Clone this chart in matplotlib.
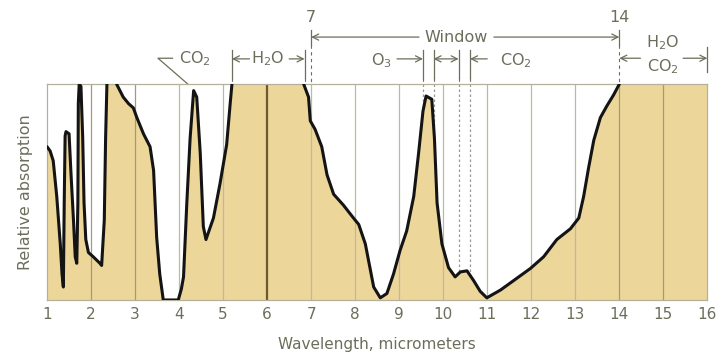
import matplotlib.pyplot as plt
import numpy as np

# Atmospheric absorption spectrum, 1-16 micrometers
wavelength = [
    1.00, 1.07, 1.14, 1.22, 1.30, 1.34, 1.37, 1.39, 1.41, 1.43, 1.50, 1.54,
    1.60, 1.64, 1.675, 1.70, 1.71, 1.73, 1.77, 1.81, 1.84, 1.88, 1.94, 2.05,
    2.20, 2.24, 2.30, 2.33, 2.36, 2.58, 2.73, 2.85, 2.96, 3.04, 3.19, 3.34,
    3.42, 3.49, 3.56, 3.64, 3.98, 4.05, 4.10, 4.175, 4.25, 4.33, 4.40, 4.48,
    4.55, 4.61, 4.78, 4.93, 5.08, 5.16, 5.20, 6.83, 6.94, 6.98, 7.09, 7.24,
    7.36, 7.51, 7.73, 7.96, 8.08, 8.23, 8.42, 8.57, 8.72, 8.87, 9.02, 9.17,
    9.33, 9.44, 9.54, 9.61, 9.74, 9.80, 9.86, 9.97, 10.12, 10.27, 10.39,
    10.54, 10.69, 10.84, 10.99, 11.30, 11.60, 11.98, 12.28, 12.58, 12.89,
    13.08, 13.19, 13.30, 13.42, 13.57, 13.72, 13.87, 14.00, 16.00,
]
absorption = [
    0.71, 0.69, 0.645, 0.48, 0.26, 0.12, 0.06, 0.45, 0.76, 0.78, 0.77, 0.60,
    0.37, 0.20, 0.17, 0.45, 0.91, 1.00, 0.99, 0.75, 0.45, 0.28, 0.22, 0.20,
    0.17, 0.16, 0.37, 0.75, 1.00, 1.00, 0.94, 0.91, 0.89, 0.845, 0.77, 0.71,
    0.60, 0.29, 0.12, 0.00, 0.00, 0.05, 0.107, 0.45, 0.75, 0.97, 0.94, 0.68,
    0.34, 0.28, 0.38, 0.54, 0.72, 0.91, 1.00, 1.00, 0.94, 0.83, 0.79, 0.71,
    0.58, 0.49, 0.44, 0.38, 0.35, 0.26, 0.06, 0.01, 0.03, 0.12, 0.23, 0.32,
    0.48, 0.68, 0.875, 0.945, 0.93, 0.75, 0.45, 0.26, 0.15, 0.107, 0.13,
    0.135, 0.09, 0.04, 0.01, 0.046, 0.09, 0.146, 0.20, 0.28, 0.33,
    0.38, 0.48, 0.61, 0.74, 0.845, 0.90, 0.95, 1.00, 1.00,
]
xticks = list(range(1, 17))

# band edges marked above the plot
o3_band = (9.54, 9.78)
gap_band = (9.78, 10.35)
co2_edge = 10.61
window = (7, 14)

TAN = "#edd699"
INK = "#6d6d5c"
GRID = "#a39a7c"

wl = np.array(wavelength)
ab = np.array(absorption)

# outline without the stretches that run along the top edge
line_x, line_y = [], []
for i in range(len(wl)):
    line_x.append(wl[i])
    line_y.append(ab[i])
    if i + 1 < len(wl) and ab[i] >= 1 and ab[i + 1] >= 1:
        line_x.append(np.nan)
        line_y.append(np.nan)

fig = plt.figure(figsize=(7.24, 3.55), dpi=100)
ax = fig.add_axes([0.065, 0.155, 0.912, 0.608])
ax.fill_between(wl, 0, ab, color=TAN, lw=0, zorder=1)

for x in xticks[1:-1]:
    dark = x in (2, 3, 6, 14, 15)
    ax.axvline(x, color="#6b5a30" if x == 6 else (GRID if dark else "#bdb8a6"),
               lw=1.6 if x == 6 else 0.9, zorder=2)

# dashed band edges inside the plot
for x in (*o3_band, gap_band[1], co2_edge):
    ax.plot([x, x], [1.0, np.interp(x, wl, ab)], ls=(0, (2, 2)), color="#9a9a90",
            lw=0.9, zorder=2)

ax.plot(line_x, line_y, color="#141414", lw=2.2, solid_capstyle="round",
        solid_joinstyle="round", zorder=3)

ax.set_xlim(1, 16)
ax.set_ylim(0, 1)
ax.set_xticks(xticks)
ax.set_yticks([])
ax.tick_params(axis="x", length=0, pad=5, labelsize=11, labelcolor=INK)
for s in ax.spines.values():
    s.set_color("#b5b09a")
    s.set_linewidth(0.9)
ax.set_xlabel("Wavelength, micrometers", fontsize=11, color=INK, labelpad=11)
ax.set_ylabel("Relative absorption", fontsize=11.5, color=INK, labelpad=10)

txt = dict(color=INK, fontsize=11.5, ha="center", va="center")
arrow = dict(arrowstyle="->", color=INK, lw=0.9, shrinkA=0, shrinkB=0,
             mutation_scale=11)


def arr(x0, x1, y, style="->"):
    ax.annotate("", xy=(x1, y), xytext=(x0, y), xycoords="data",
                arrowprops={**arrow, "arrowstyle": style}, annotation_clip=False)


def bar(x, y0, y1, dashed_to=None):
    ax.plot([x, x], [y0, y1], color=INK, lw=0.9, clip_on=False)
    if dashed_to is not None:
        ax.plot([x, x], [y0, dashed_to], color=INK, lw=0.8, ls=(0, (3, 3)),
                clip_on=False)


# window span
ax.text(window[0], 1.31, "7", **txt)
ax.text(window[1], 1.31, "14", **txt)
ax.text(10.3, 1.218, "Window", **txt)
arr(9.45, window[0], 1.218)
arr(11.15, window[1], 1.218)
bar(window[0], 1.18, 1.25, dashed_to=1.0)
bar(window[1], 1.18, 1.25, dashed_to=1.0)

# CO2 band near 4.3
ax.text(4.35, 1.117, "CO$_2$", **txt)
ax.plot([3.85, 3.52, 4.2], [1.12, 1.12, 1.0], color=INK, lw=0.9, clip_on=False)

# H2O band 5.2-6.85
ax.text(6.02, 1.117, "H$_2$O", **txt)
arr(5.6, 5.2, 1.117)
arr(6.5, 6.85, 1.117)
bar(5.2, 1.03, 1.16, dashed_to=1.0)
bar(6.85, 1.03, 1.16, dashed_to=1.0)

# O3 and CO2 near 9.6-10.6
ax.text(8.6, 1.11, "O$_3$", **txt)
arr(8.95, o3_band[0], 1.117)
bar(o3_band[0], 1.03, 1.16, dashed_to=1.0)
arr(gap_band[0], gap_band[1], 1.117, style="<->")
bar(gap_band[0], 1.03, 1.16, dashed_to=1.0)
bar(gap_band[1], 1.03, 1.16, dashed_to=1.0)
ax.text(11.65, 1.11, "CO$_2$", **txt)
arr(11.0, co2_edge, 1.117)
bar(co2_edge, 1.03, 1.16, dashed_to=1.0)

# H2O + CO2 beyond 14
ax.text(14.98, 1.19, "H$_2$O", **txt)
ax.text(14.98, 1.08, "CO$_2$", **txt)
arr(14.48, 14.0, 1.12)
arr(15.45, 16.0, 1.12)
bar(16.0, 1.056, 1.17)

fig.savefig("out.png", dpi=100)
